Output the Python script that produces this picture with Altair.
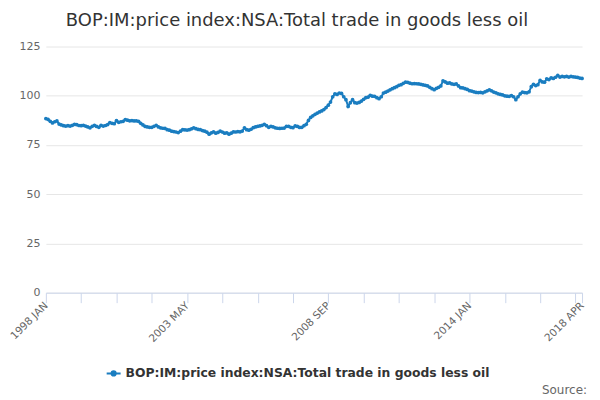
import altair as alt
import pandas as pd

TITLE = "BOP:IM:price index:NSA:Total trade in goods less oil"
SERIES = "BOP:IM:price index:NSA:Total trade in goods less oil"
MONTHS = ["JAN", "FEB", "MAR", "APR", "MAY", "JUN", "JUL", "AUG", "SEP", "OCT", "NOV", "DEC"]
START_YEAR = 1998

values = [
    # 1998
    88.4, 88.0, 87.0, 86.2, 86.8, 87.2, 85.6, 85.2, 84.8, 84.6, 84.8, 84.6,
    # 1999
    85.0, 85.5, 85.3, 84.9, 84.8, 85.0, 84.6, 84.2, 83.7, 84.5, 85.0, 84.4,
    # 2000
    84.0, 85.0, 84.6, 84.9, 85.4, 86.4, 86.0, 85.8, 87.4, 86.5, 86.8, 87.0,
    # 2001
    87.9, 87.6, 87.3, 87.4, 87.2, 87.3, 87.0, 86.0, 85.2, 84.4, 84.2, 84.0,
    # 2002
    84.0, 84.5, 85.0, 84.2, 83.7, 83.5, 83.4, 82.8, 82.5, 82.0, 81.8, 81.6,
    # 2003
    81.3, 82.0, 82.8, 82.7, 82.6, 82.8, 83.2, 83.7, 83.3, 82.9, 82.8, 82.3,
    # 2004
    82.0, 81.5, 80.5, 81.2, 81.7, 81.0, 81.4, 82.0, 81.6, 81.0, 81.2, 80.5,
    # 2005
    81.0, 81.7, 81.6, 81.8, 81.7, 82.1, 83.7, 82.8, 82.5, 83.0, 83.8, 84.2,
    # 2006
    84.5, 84.7, 85.0, 85.5, 84.8, 84.0, 84.5, 84.2, 83.7, 83.5, 83.4, 83.5,
    # 2007
    83.6, 84.4, 84.5, 84.0, 83.8, 84.7, 84.4, 83.9, 84.0, 84.8, 85.5, 87.5,
    # 2008
    89.0, 89.8, 90.6, 91.2, 91.8, 92.3, 93.0, 94.0, 95.2, 96.8, 99.5, 101.0,
    # 2009
    100.7, 101.4, 101.2, 99.5, 98.0, 94.6, 96.5, 98.0, 96.5, 96.3, 96.6, 97.3,
    # 2010
    98.2, 99.0, 99.3, 100.2, 99.8, 99.7, 99.0, 98.5, 99.5, 101.4, 101.8, 102.4,
    # 2011
    103.0, 103.6, 104.1, 104.6, 105.3, 105.6, 106.3, 106.9, 106.8, 106.4, 106.1, 106.2,
    # 2012
    106.1, 106.0, 105.8, 105.5, 105.3, 105.0, 104.3, 103.6, 103.1, 103.8, 104.3, 105.0,
    # 2013
    107.6, 107.0, 106.4, 106.5, 106.0, 105.8, 106.0, 105.0, 104.1, 104.0, 103.6, 103.2,
    # 2014
    102.6, 102.4, 102.0, 101.7, 101.6, 101.7, 101.5, 102.0, 102.5, 103.0, 102.5, 101.9,
    # 2015
    101.5, 101.0, 100.7, 100.4, 100.0, 99.8, 99.7, 100.1, 99.5, 98.0, 99.5, 101.0,
    # 2016
    101.9, 101.6, 101.5, 102.0, 104.6, 105.8, 105.2, 105.6, 107.8, 107.0, 106.9, 108.6,
    # 2017
    108.2, 109.1, 108.8, 109.4, 110.3, 109.5, 109.8, 109.6, 109.8, 109.5, 109.8, 109.6,
    # 2018
    109.5, 109.3, 109.0, 108.8,
]

labels = [f"{START_YEAR + i // 12} {MONTHS[i % 12]}" for i in range(len(values))]
shown_labels = ["1998 JAN", "2003 MAY", "2008 SEP", "2014 JAN", "2018 APR"]
tick_positions = labels[::16] + [labels[-1]]
y_ticks = [0, 25, 50, 75, 100, 125]

df = pd.DataFrame({"month": labels, "value": values, "series": SERIES})

BLUE = "#1a7dc0"
FONT = "DejaVu Sans"

label_expr = "indexof(" + str(shown_labels) + ", datum.value) >= 0 ? datum.value : ''"

line = alt.Chart(df).mark_line(
    strokeWidth=2,
    point=alt.OverlayMarkDef(filled=True, size=14, color=BLUE),
).encode(
    x=alt.X(
        "month:O",
        sort=None,
        scale=alt.Scale(type="point", padding=0),
        axis=alt.Axis(
            title=None,
            values=tick_positions,
            labelExpr=label_expr,
            labelAngle=-45,
            labelAlign="right",
            labelBaseline="middle",
            labelFontSize=10.5,
            labelColor="#666666",
            labelFont=FONT,
            labelPadding=1,
            tickSize=10,
            tickColor="#ccd6eb",
            domainColor="#ccd6eb",
            grid=False,
            labelOverlap=False,
            labelFlush=False,
        ),
    ),
    y=alt.Y(
        "value:Q",
        scale=alt.Scale(domain=[0, 125], nice=False),
        axis=alt.Axis(
            title=None,
            values=y_ticks,
            labelFontSize=11,
            labelColor="#666666",
            labelFont=FONT,
            labelPadding=6,
            tickSize=0,
            domain=False,
            gridColor="#e6e6e6",
        ),
    ),
    color=alt.Color(
        "series:N",
        scale=alt.Scale(domain=[SERIES], range=[BLUE]),
        legend=alt.Legend(
            title=None,
            orient="none",
            legendX=60,
            legendY=320,
            labelFont=FONT,
            labelFontSize=12.4,
            labelFontWeight="bold",
            labelColor="#333333",
            labelLimit=600,
            symbolType="M-1,0L1,0M-0.3,0A0.3,0.3,0,1,0,0.3,0A0.3,0.3,0,1,0,-0.3,0",
            symbolSize=196,
            symbolStrokeWidth=2,
            symbolStrokeColor=BLUE,
            symbolFillColor=BLUE,
        ),
    ),
)

source = alt.Chart(pd.DataFrame({"t": ["Source:"]})).mark_text(
    align="right", baseline="alphabetic", fontSize=12, color="#666666", font=FONT
).encode(text="t:N", x=alt.value(543), y=alt.value(349))

chart = alt.layer(line, source).properties(
    width=538,
    height=247,
    padding={"left": 38, "top": 38, "right": 10, "bottom": 104},
    autosize=alt.AutoSizeParams(type="none"),
    title=alt.TitleParams(
        TITLE,
        fontSize=18,
        fontWeight="normal",
        color="#333333",
        font=FONT,
        anchor="middle",
        offset=11,
        dx=-17,
    ),
).configure_view(stroke=None)

chart.save("out.html", embed_options={"renderer": "svg", "actions": False})
